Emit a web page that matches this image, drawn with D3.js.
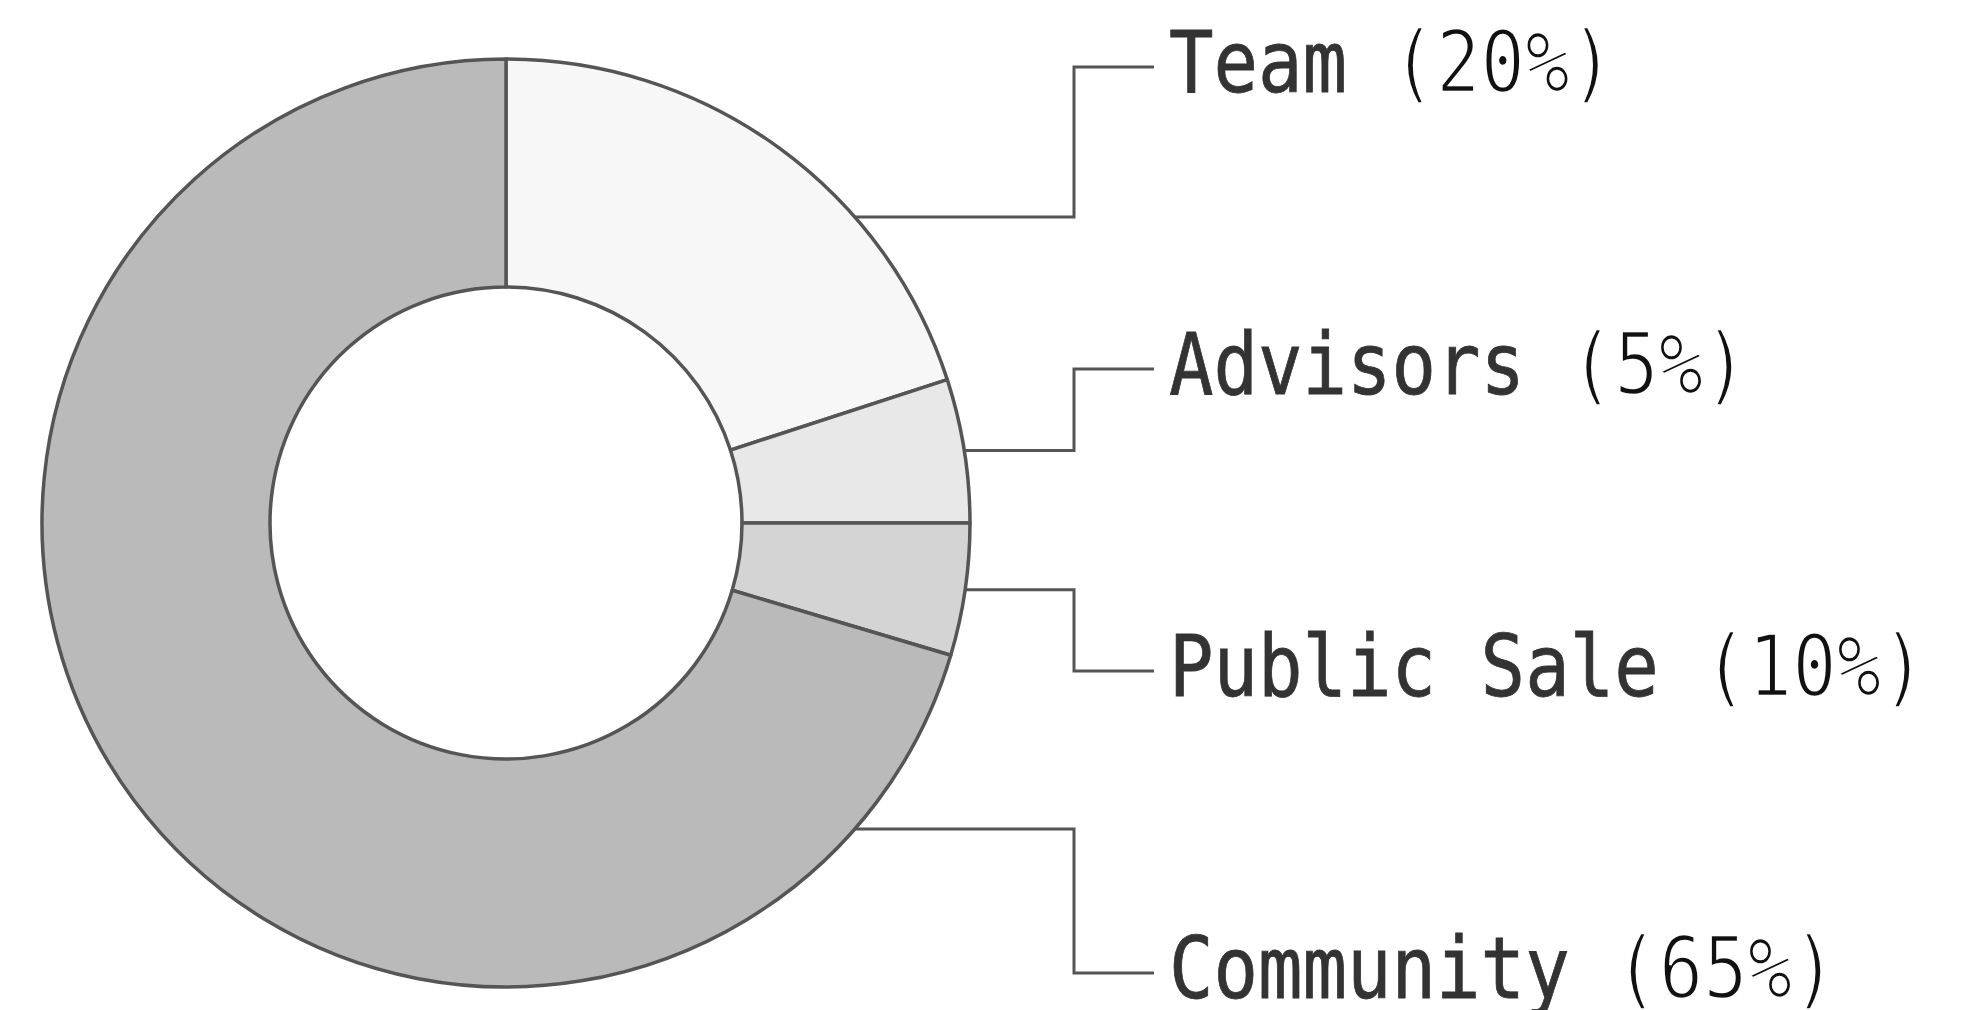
<!DOCTYPE html>
<html>
<head>
<meta charset="utf-8">
<script src="https://cdn.jsdelivr.net/npm/d3@7"></script>
<style>
  html, body { margin: 0; padding: 0; background: #fff; }
  svg { display: block; }
</style>
</head>
<body>
<div class="chart"></div>
<script>
// allocation shares, as drawn (the labels carry their own text)
var names = ["Team", "Advisors", "Public Sale", "Community"];
var shares = [20, 5, 4.6, 70.4];
var pctLabels = ["20%", "5%", "10%", "65%"];
var fills = ["#f7f7f7", "#e8e8e8", "#d4d4d4", "#bababa"];

var width = 1973;
var height = 1010;
var cx = 506, cy = 523;
var rOuter = 464, rInner = 236;
var elbowX = 1074, lineEndX = 1154, textX = 1169;

var svg = d3.select('.chart').append('svg')
  .attr('width', width)
  .attr('height', height);

var pie = d3.pie().sort(null).value(function(d) { return d; });
var arcs = pie(shares);

var arc = d3.arc().innerRadius(rInner).outerRadius(rOuter);

var g = svg.append('g').attr('transform', 'translate(' + cx + ',' + cy + ')');

g.selectAll('path.slice')
  .data(arcs)
  .enter()
  .append('path')
  .attr('class', 'slice')
  .attr('d', arc)
  .attr('fill', function(d, i) { return fills[i]; })
  .attr('stroke', '#555')
  .attr('stroke-width', 3.5)
  .attr('stroke-linejoin', 'round');

// label rows are evenly spaced down the right side
var rowY = d3.scalePoint().domain(names).range([92, 998]);

// leader anchor sits on the outer edge, kept to the right-hand side
var spread = 0.72;
function anchor(d) {
  var a = (d.startAngle + d.endAngle) / 2;
  a = Math.max(Math.PI / 2 - spread, Math.min(Math.PI / 2 + spread, a));
  return [cx + rOuter * Math.sin(a), cy - rOuter * Math.cos(a)];
}

svg.selectAll('path.leader')
  .data(arcs)
  .enter()
  .append('path')
  .attr('class', 'leader')
  .attr('d', function(d, i) {
    var p = anchor(d);
    var ly = rowY(names[i]) - 25;
    return 'M' + p[0] + ',' + p[1] + 'H' + elbowX + 'V' + ly + 'H' + lineEndX;
  })
  .attr('fill', 'none')
  .attr('stroke', '#555')
  .attr('stroke-width', 3);

var labels = svg.selectAll('text.label')
  .data(names)
  .enter()
  .append('text')
  .attr('class', 'label')
  .attr('transform', function(d) { return 'translate(' + textX + ',' + rowY(d) + ') scale(0.87,1)'; })
  .style('font-family', '"DejaVu Sans Mono", "Liberation Mono", monospace')
  .style('font-size', '85px')
  .attr('xml:space', 'preserve');

labels.append('tspan')
  .text(function(d) { return d + ' '; })
  .attr('fill', '#333')
  .attr('stroke', '#333')
  .attr('stroke-width', 0.8);

labels.append('tspan')
  .text(function(d, i) { return '(' + pctLabels[i] + ')'; })
  .attr('fill', '#111')
  .attr('stroke', '#fff')
  .attr('stroke-width', 2.6);
</script>
</body>
</html>
